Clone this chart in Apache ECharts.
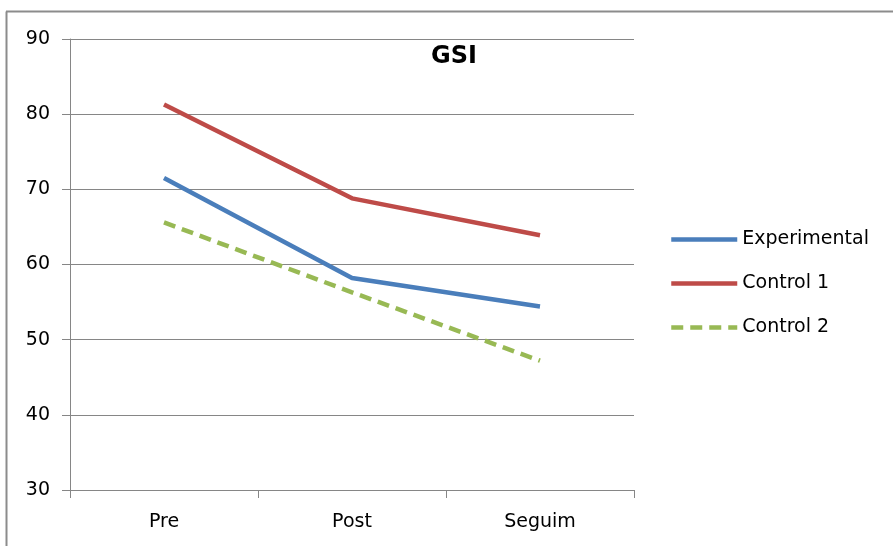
<!DOCTYPE html>
<html>
<head>
<meta charset="utf-8">
<script src="https://cdn.jsdelivr.net/npm/echarts@6/dist/echarts.min.js"></script>
<style>
  html, body { margin: 0; padding: 0; background: #fff; }
  #chart { width: 893px; height: 546px; }
</style>
</head>
<body>
<div id="chart"></div>
<script>
// GSI scores across the three assessment moments
const categories = ['Pre', 'Post', 'Seguim'];
const experimental = [71.5, 58.2, 54.4];
const control1 = [81.3, 68.8, 63.9];
const control2 = [65.6, 56.3, 47.2];
const yTicks = { min: 30, max: 90, step: 10 };

const FONT = '"DejaVu Sans", "Open Sans", sans-serif';
const gridColor = '#868686';

const chart = echarts.init(document.getElementById('chart'));
chart.setOption({
  backgroundColor: '#ffffff',
  animation: false,
  title: {
    text: 'GSI',
    left: 449, top: 40,
    textAlign: 'center',
    textStyle: { fontFamily: FONT, fontSize: 24, fontWeight: 'bold', color: '#000' }
  },
  grid: { left: 70, right: 259, top: 39, bottom: 56 },
  legend: {
    orient: 'vertical',
    left: 664, top: 225,
    padding: 5,
    itemWidth: 66, itemHeight: 14, itemGap: 25,
    itemStyle: { opacity: 0 },
    lineStyle: { width: 4.5 },
    textStyle: { fontFamily: FONT, fontSize: 19, color: '#000' },
    data: ['Experimental', 'Control 1', 'Control 2']
  },
  xAxis: {
    type: 'category',
    data: categories,
    boundaryGap: true,
    axisLine: { lineStyle: { color: gridColor, width: 1 } },
    axisTick: { show: true, length: 8, lineStyle: { color: gridColor } },
    axisLabel: { fontFamily: FONT, fontSize: 19, color: '#000', margin: 23 }
  },
  yAxis: {
    type: 'value',
    min: yTicks.min, max: yTicks.max, interval: yTicks.step,
    axisLine: { show: true, lineStyle: { color: gridColor, width: 1 } },
    axisTick: { show: true, length: 8, lineStyle: { color: gridColor } },
    axisLabel: { fontFamily: FONT, fontSize: 19, color: '#000', margin: 20 },
    splitLine: { lineStyle: { color: gridColor, width: 1 } }
  },
  graphic: [
    { type: 'line', shape: { x1: 6.5, y1: 11.5, x2: 6.5, y2: 546 }, style: { stroke: '#8c8c8c', lineWidth: 2 }, silent: true },
    { type: 'line', shape: { x1: 6, y1: 11.5, x2: 893, y2: 11.5 }, style: { stroke: '#8c8c8c', lineWidth: 2 }, silent: true }
  ],
  series: [
    {
      name: 'Experimental', type: 'line', data: experimental,
      symbol: 'none', lineStyle: { color: '#4a7ebb', width: 4.5 }, itemStyle: { color: '#4a7ebb' }
    },
    {
      name: 'Control 1', type: 'line', data: control1,
      symbol: 'none', lineStyle: { color: '#be4b48', width: 4.5 }, itemStyle: { color: '#be4b48' }
    },
    {
      name: 'Control 2', type: 'line', data: control2,
      symbol: 'none', lineStyle: { color: '#98b954', width: 4.5, type: [12, 7] }, itemStyle: { color: '#98b954' }
    }
  ]
});
</script>
</body>
</html>
